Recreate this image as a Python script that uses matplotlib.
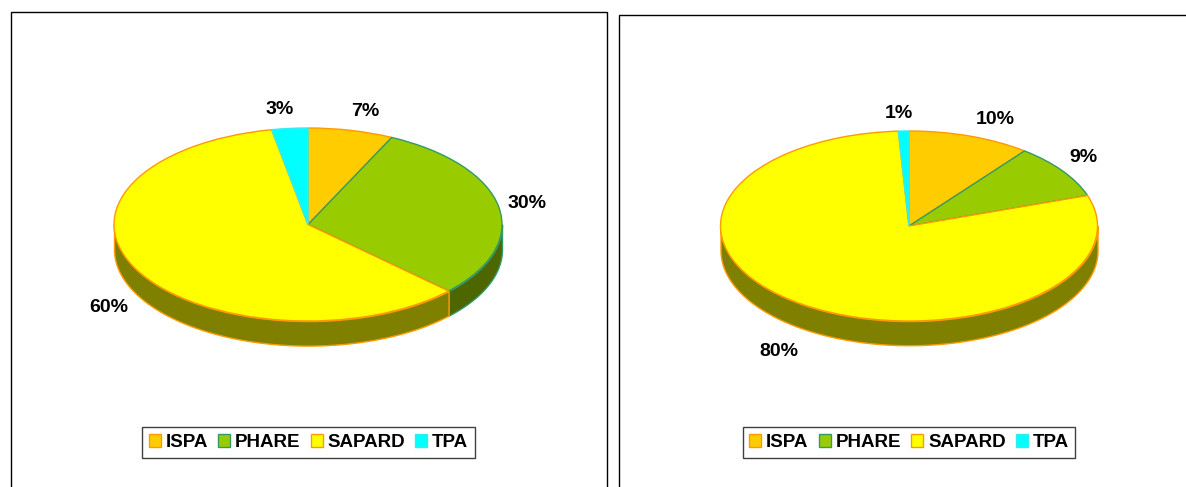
'''
Two flattened 3D style pies, ISPA / PHARE / SAPARD / TPA shares
'''
import numpy as np
import matplotlib
matplotlib.use("Agg")
import matplotlib.pyplot as plt
from matplotlib.patches import Rectangle

names = ["ISPA", "PHARE", "SAPARD", "TPA"]
leftValues = [7.1, 30.0, 59.9, 3.0]
rightValues = [10.5, 9.3, 79.3, 0.9]
leftLabels = ["7%", "30%", "60%", "3%"]
rightLabels = ["10%", "9%", "80%", "1%"]

topColors = ["#ffcc00", "#99cc00", "#ffff00", "#00ffff"]
sideColors = ["#806600", "#4d6600", "#808000", "#008080"]
edgeColors = ["#ff9900", "#339966", "#ff9900", "#33eeee"]

W, H = 1186, 487
DEPTH = 0.255

plt.rcParams["font.family"] = ["Liberation Sans", "DejaVu Sans"]
plt.rcParams["font.weight"] = "bold"
fig = plt.figure(figsize=(W / 100, H / 100), dpi=100)


def pixelText(x, y, s):
    fig.text(x / W, 1 - y / H, s, fontsize=14, fontweight="bold", ha="center", va="center", color="black")


def drawFrame(x0, x1, y0):
    # runs off the bottom of the picture
    fig.add_artist(Rectangle((x0 / W, -0.05), (x1 - x0) / W, 1.05 - y0 / H, transform=fig.transFigure,
                             fill=False, edgecolor="black", linewidth=1.0))


def drawPie(values, labels, cx, cy, rx, ry, labelPos, legendBox):
    # axes spans -1.2..1.2 horizontally, pie is squashed by turning off equal aspect
    ax = fig.add_axes([(cx - 1.2 * rx) / W, 1 - (cy + 1.6 * ry) / H, 2.4 * rx / W, 2.8 * ry / H])
    wedges, _ = ax.pie(values, colors=topColors, startangle=90, counterclock=False,
                       wedgeprops={"linewidth": 1.0})
    for w, e in zip(wedges, edgeColors):
        w.set_edgecolor(e)
    ax.set_aspect("auto")
    ax.set_xlim(-1.2, 1.2)
    ax.set_ylim(-1.6, 1.2)
    ax.patch.set_alpha(0)

    # side wall, only the part of each slice on the lower half of the ellipse
    edges = 90 - 360 * np.cumsum([0] + list(values)) / np.sum(values)
    for i in range(len(values)):
        a0 = max(edges[i + 1], -180)
        a1 = min(edges[i], 0)
        if a1 <= a0:
            continue
        t = np.radians(np.linspace(a0, a1, 200))
        ax.fill_between(np.cos(t), np.sin(t), np.sin(t) - DEPTH, facecolor=sideColors[i],
                        edgecolor=edgeColors[i], linewidth=1.0, zorder=0.5)

    for (x, y), s in zip(labelPos, labels):
        pixelText(x, y, s)

    x0, x1, y0, y1 = legendBox
    leg = fig.legend(wedges, names, loc="center", ncols=4, bbox_to_anchor=((x0 + x1) / 2 / W, 1 - (y0 + y1) / 2 / H),
                     fontsize=13.5, frameon=True, fancybox=False, edgecolor="#404040", framealpha=1,
                     handlelength=0.64, handleheight=0.64, handletextpad=0.27, columnspacing=0.53,
                     borderpad=0.35, borderaxespad=0)
    leg.get_frame().set_linewidth(1.0)


drawFrame(11, 607, 12)
drawFrame(619, 1240, 15)

drawPie(leftValues, leftLabels, 308, 224.5, 194, 96.5,
        [(365, 112), (527, 204), (109, 308), (280, 110)], (140, 477, 427, 458))
drawPie(rightValues, rightLabels, 909, 226, 188.5, 95,
        [(995, 119), (1083, 158), (779, 351), (899, 114)], (743, 1075, 427, 458))

fig.savefig("out.png", dpi=100)
